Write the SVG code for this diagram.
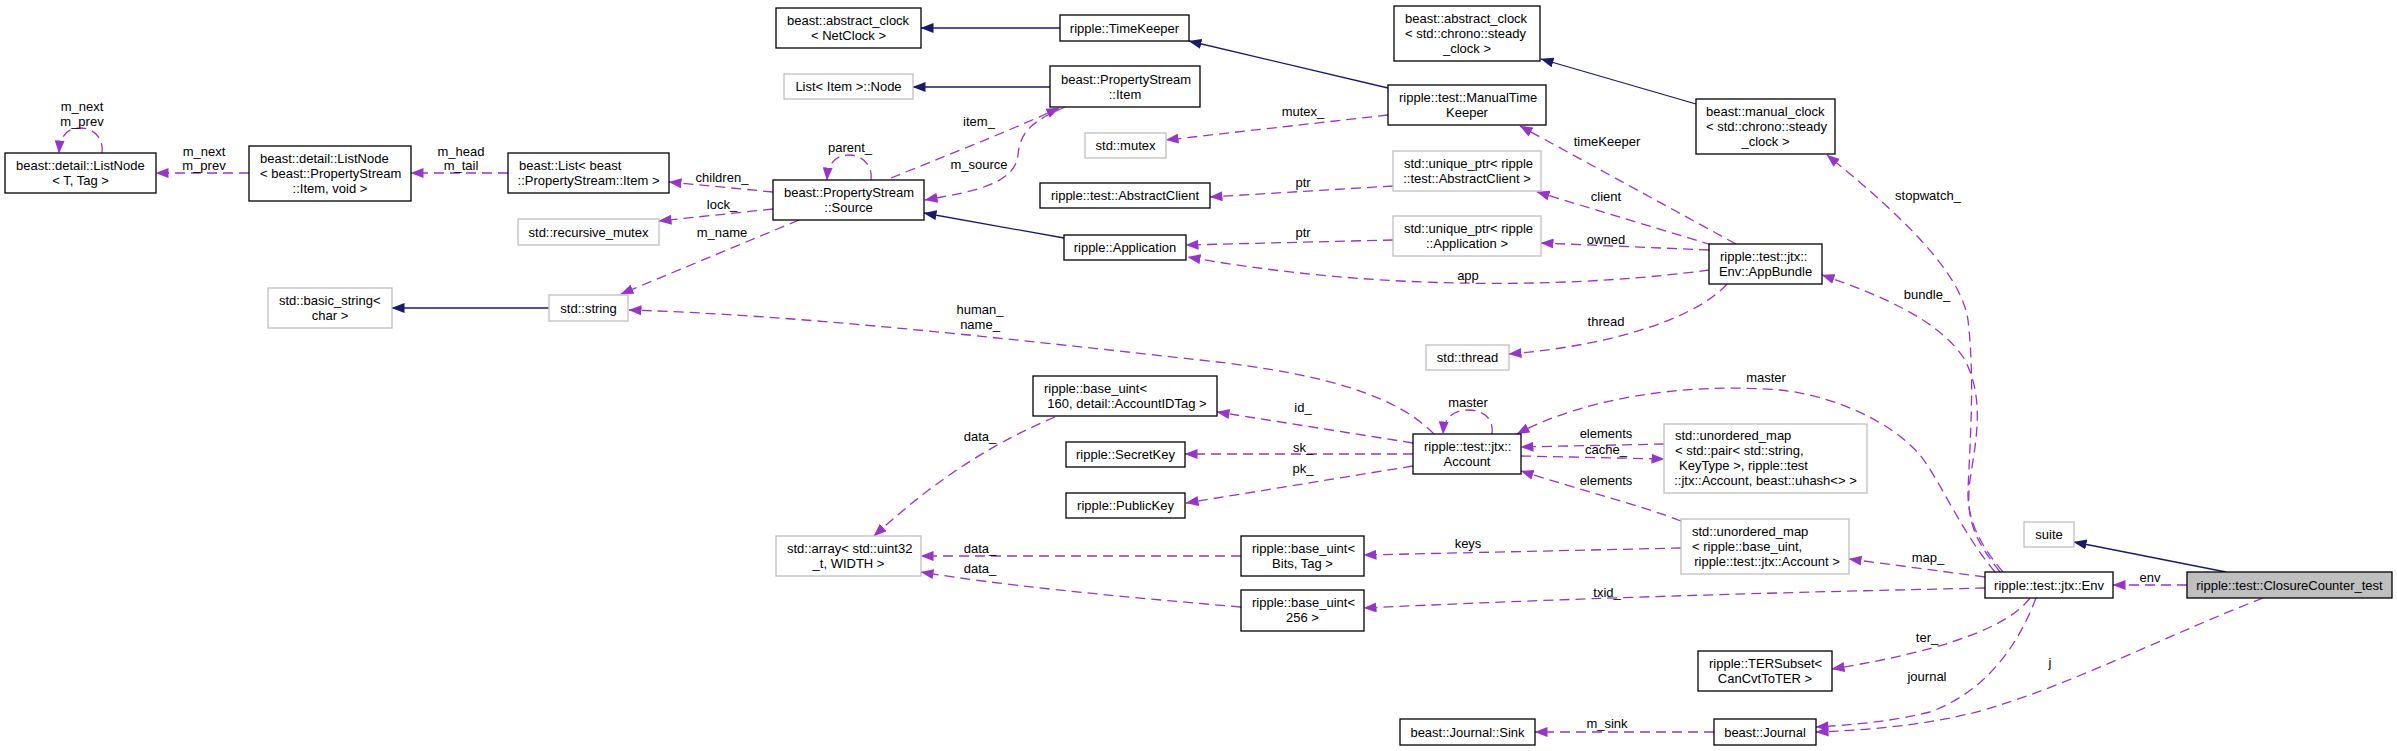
<svg xmlns="http://www.w3.org/2000/svg" width="2397" height="751" viewBox="0 0 2397 751">
<style>
text{font-family:"Liberation Sans",Arial,Helvetica,sans-serif;font-size:13px;fill:#000}
.node rect{fill:#fff;stroke:#000;stroke-width:1.3}
.node.g rect{stroke:#bfbfbf}
.node.hl rect{fill:#bfbfbf}
.c{text-anchor:middle}
.e{fill:none;stroke:#9a32cd;stroke-width:1.3;stroke-dasharray:10,6;marker-end:url(#ap)}
.i{fill:none;stroke:#191970;stroke-width:1.3;marker-end:url(#ab)}
.lbl text{text-anchor:middle}
</style>
<defs>
<marker id="ap" markerUnits="userSpaceOnUse" markerWidth="14" markerHeight="10" refX="12.5" refY="5" orient="auto"><path d="M0,0 L13,5 L0,10 z" fill="#9a32cd"/></marker>
<marker id="ab" markerUnits="userSpaceOnUse" markerWidth="14" markerHeight="10" refX="12.5" refY="5" orient="auto"><path d="M0,0 L13,5 L0,10 z" fill="#191970"/></marker>
</defs>
<rect x="0" y="0" width="2397" height="751" fill="#fff"/>

<g id="connectors">
<path class="e" d="M102,153 C104,138 94,128 80,128 C68,128 60,135 59,153"/>
<path class="e" d="M249,173 L156,173"/>
<path class="e" d="M508,173 L411,173"/>
<path class="e" d="M773,192 L669,182"/>
<path class="e" d="M773,209 L659,221"/>
<path class="e" d="M799,220 L621,294"/>
<path class="e" d="M871,180 C873,165 862,155 849,155 C836,155 828,163 827,180"/>
<path class="e" d="M891,178 C940,158 1000,135 1059,108"/>
<path class="e" d="M1065,107 C1035,120 1020,130 1018,155 C1015,185 970,192 925,200"/>
<path class="i" d="M1064,238 L924,213"/>
<path class="i" d="M1050,87 L913,87"/>
<path class="i" d="M1060,28 L921,28"/>
<path class="i" d="M1388,88 L1189,41"/>
<path class="i" d="M1696,104 L1541,59"/>
<path class="e" d="M1388,115 L1166,140"/>
<path class="e" d="M1393,186 L1210,197"/>
<path class="e" d="M1393,240 L1186,245"/>
<path class="e" d="M1709,250 L1541,243"/>
<path class="e" d="M1712,245 L1537,192"/>
<path class="e" d="M1736,244 L1520,126"/>
<path class="e" d="M1709,270 C1600,285 1400,295 1188,257"/>
<path class="e" d="M1727,284 C1700,315 1620,345 1509,354"/>
<path class="e" d="M2003,572 C1980,545 1967,520 1968,490 C1970,440 1975,380 1968,320 C1962,280 1920,230 1827,155"/>
<path class="e" d="M2000,572 C1975,540 1965,520 1970,480 C1976,440 1985,400 1965,360 C1940,320 1880,295 1822,275"/>
<path class="e" d="M1995,572 C1960,530 1940,480 1920,455 C1890,420 1830,395 1780,390 C1680,382 1580,400 1517,434"/>
<path class="e" d="M1492,434 C1494,419 1484,410 1468,410 C1453,410 1444,418 1443,434"/>
<path class="e" d="M1434,434 C1400,400 1340,375 1200,360 C1000,338 800,315 629,310"/>
<path class="e" d="M1413,443 L1217,412"/>
<path class="e" d="M1413,454 L1185,454"/>
<path class="e" d="M1413,466 L1186,503"/>
<path class="e" d="M1664,444 L1521,447"/>
<path class="e" d="M1521,456 L1664,459"/>
<path class="e" d="M1681,521 C1640,505 1580,490 1521,471"/>
<path class="e" d="M1055,417 C1000,440 940,475 874,536"/>
<path class="e" d="M1241,556 L921,556"/>
<path class="e" d="M1241,607 C1100,595 1000,585 921,572"/>
<path class="e" d="M1681,548 L1364,555"/>
<path class="e" d="M1985,588 C1800,592 1600,597 1364,608"/>
<path class="e" d="M1985,577 L1849,559"/>
<path class="e" d="M2030,598 C2010,625 1950,650 1832,669"/>
<path class="e" d="M2036,598 C2020,640 1990,690 1930,712 C1890,722 1850,725 1816,727"/>
<path class="e" d="M2263,598 C2180,630 2080,680 2000,705 C1950,722 1880,730 1816,732"/>
<path class="e" d="M2187,585 L2113,585"/>
<path class="i" d="M2226,572 L2074,542"/>
<path class="i" d="M549,308 L392,308"/>
<path class="e" d="M1714,732 L1535,732"/>
<g class="lbl">
<text x="82" y="110.5">m_next</text><text x="82" y="125.5">m_prev</text>
<text x="204" y="155.5">m_next</text><text x="204" y="169.5">m_prev</text>
<text x="461" y="155.5">m_head</text><text x="461" y="169.5">m_tail</text>
<text x="850" y="151.5">parent_</text>
<text x="722" y="181.5">children_</text>
<text x="722" y="208.5">lock_</text>
<text x="722" y="236.5">m_name</text>
<text x="979" y="125.5">item_</text>
<text x="979" y="168.5">m_source</text>
<text x="1303" y="115.5">mutex_</text>
<text x="1303" y="186.5">ptr</text>
<text x="1303" y="236.5">ptr</text>
<text x="1607" y="145.5">timeKeeper</text>
<text x="1606" y="200.5">client</text>
<text x="1606" y="243.5">owned</text>
<text x="1468" y="279.5">app</text>
<text x="1606" y="325.5">thread</text>
<text x="1928" y="199.5">stopwatch_</text>
<text x="1927" y="298.5">bundle_</text>
<text x="980" y="313.5">human_</text><text x="980" y="328.5">name_</text>
<text x="1468" y="406.5">master</text>
<text x="1766" y="381.5">master</text>
<text x="1303" y="411.5">id_</text>
<text x="1303" y="451.5">sk_</text>
<text x="1303" y="472.5">pk_</text>
<text x="1606" y="437.5">elements</text>
<text x="1606" y="453.5">cache_</text>
<text x="1606" y="484.5">elements</text>
<text x="980" y="440.5">data_</text>
<text x="980" y="552.5">data_</text>
<text x="980" y="572.5">data_</text>
<text x="1468" y="547.5">keys</text>
<text x="1607" y="596.5">txid_</text>
<text x="1928" y="561.5">map_</text>
<text x="2150" y="581.5">env</text>
<text x="1927" y="641.5">ter_</text>
<text x="1927" y="680.5">journal</text>
<text x="2050" y="666.5">j</text>
<text x="1607" y="727.5">m_sink</text>
</g>
</g>

<g id="n_listnodeT" class="node"><rect x="5" y="153" width="151" height="40"/><text x="16" y="170">beast::detail::ListNode</text><text class="c" x="80.5" y="185">&lt; T, Tag &gt;</text></g>
<g id="n_listnodeItem" class="node"><rect x="249" y="146" width="162" height="55"/><text x="260" y="163">beast::detail::ListNode</text><text x="260" y="178">&lt; beast::PropertyStream</text><text class="c" x="330" y="193">::Item, void &gt;</text></g>
<g id="n_list" class="node"><rect x="508" y="153" width="161" height="40"/><text x="519" y="170">beast::List&lt; beast</text><text class="c" x="588.5" y="185">::PropertyStream::Item &gt;</text></g>
<g id="n_recmutex" class="node g"><rect x="518" y="219" width="141" height="26"/><text class="c" x="588.5" y="236.5">std::recursive_mutex</text></g>
<g id="n_absclockNet" class="node"><rect x="776" y="8" width="145" height="40"/><text x="787" y="25">beast::abstract_clock</text><text class="c" x="848.5" y="40">&lt; NetClock &gt;</text></g>
<g id="n_timekeeper" class="node"><rect x="1060" y="15" width="129" height="26"/><text class="c" x="1124.5" y="32.5">ripple::TimeKeeper</text></g>
<g id="n_listitemnode" class="node g"><rect x="784" y="74" width="129" height="25"/><text class="c" x="848.5" y="91">List&lt; Item &gt;::Node</text></g>
<g id="n_psitem" class="node"><rect x="1050" y="66" width="150" height="41"/><text x="1061" y="83.5">beast::PropertyStream</text><text class="c" x="1125" y="98.5">::Item</text></g>
<g id="n_mutex" class="node g"><rect x="1085" y="133" width="81" height="25"/><text class="c" x="1125.5" y="150">std::mutex</text></g>
<g id="n_absclient" class="node"><rect x="1040" y="183" width="170" height="25"/><text class="c" x="1125" y="200">ripple::test::AbstractClient</text></g>
<g id="n_source" class="node"><rect x="773" y="180" width="151" height="40"/><text x="784" y="197">beast::PropertyStream</text><text class="c" x="848.5" y="212">::Source</text></g>
<g id="n_app" class="node"><rect x="1064" y="235" width="122" height="25"/><text class="c" x="1125" y="252">ripple::Application</text></g>
<g id="n_absclockSteady" class="node"><rect x="1394" y="6" width="146" height="55"/><text x="1405" y="22.5">beast::abstract_clock</text><text x="1405" y="37.5">&lt; std::chrono::steady</text><text class="c" x="1467" y="52.5">_clock &gt;</text></g>
<g id="n_manualtk" class="node"><rect x="1388" y="85" width="158" height="40"/><text x="1399" y="102">ripple::test::ManualTime</text><text class="c" x="1467" y="117">Keeper</text></g>
<g id="n_manualclock" class="node"><rect x="1696" y="99" width="139" height="55"/><text x="1706" y="116">beast::manual_clock</text><text x="1706" y="131">&lt; std::chrono::steady</text><text class="c" x="1765.5" y="146">_clock &gt;</text></g>
<g id="n_uptrAC" class="node g"><rect x="1393" y="151" width="148" height="40"/><text x="1404" y="168">std::unique_ptr&lt; ripple</text><text class="c" x="1467" y="183">::test::AbstractClient &gt;</text></g>
<g id="n_uptrApp" class="node g"><rect x="1393" y="216" width="148" height="40"/><text x="1404" y="233">std::unique_ptr&lt; ripple</text><text class="c" x="1467" y="248">::Application &gt;</text></g>
<g id="n_appbundle" class="node"><rect x="1709" y="244" width="113" height="40"/><text x="1720" y="261">ripple::test::jtx::</text><text class="c" x="1765.5" y="276">Env::AppBundle</text></g>
<g id="n_basicstring" class="node g"><rect x="268" y="288" width="124" height="40"/><text x="279" y="305">std::basic_string&lt;</text><text class="c" x="330" y="320">char &gt;</text></g>
<g id="n_string" class="node g"><rect x="549" y="295" width="79" height="26"/><text class="c" x="588.5" y="312.5">std::string</text></g>
<g id="n_bu160" class="node"><rect x="1033" y="376" width="184" height="40"/><text x="1044" y="393">ripple::base_uint&lt;</text><text class="c" x="1127" y="408">160, detail::AccountIDTag &gt;</text></g>
<g id="n_secretkey" class="node"><rect x="1066" y="442" width="119" height="25"/><text class="c" x="1125.5" y="459">ripple::SecretKey</text></g>
<g id="n_publickey" class="node"><rect x="1066" y="493" width="119" height="25"/><text class="c" x="1125.5" y="510">ripple::PublicKey</text></g>
<g id="n_thread" class="node g"><rect x="1426" y="345" width="83" height="25"/><text class="c" x="1467.5" y="362">std::thread</text></g>
<g id="n_account" class="node"><rect x="1413" y="434" width="108" height="40"/><text x="1424" y="451">ripple::test::jtx::</text><text class="c" x="1467" y="466">Account</text></g>
<g id="n_cachemap" class="node g"><rect x="1664" y="424" width="203" height="69"/><text x="1675" y="440">std::unordered_map</text><text x="1675" y="455">&lt; std::pair&lt; std::string,</text><text x="1679" y="470">KeyType &gt;, ripple::test</text><text class="c" x="1765.5" y="485">::jtx::Account, beast::uhash&lt;&gt; &gt;</text></g>
<g id="n_array" class="node g"><rect x="776" y="536" width="145" height="40"/><text x="787" y="553">std::array&lt; std::uint32</text><text class="c" x="848.5" y="568">_t, WIDTH &gt;</text></g>
<g id="n_buBits" class="node"><rect x="1241" y="536" width="123" height="40"/><text x="1252" y="553">ripple::base_uint&lt;</text><text class="c" x="1302.5" y="568">Bits, Tag &gt;</text></g>
<g id="n_bu256" class="node"><rect x="1241" y="590" width="123" height="41"/><text x="1252" y="607">ripple::base_uint&lt;</text><text class="c" x="1302.5" y="622">256 &gt;</text></g>
<g id="n_umap2" class="node g"><rect x="1681" y="519" width="168" height="55"/><text x="1692" y="536">std::unordered_map</text><text x="1692" y="551">&lt; ripple::base_uint,</text><text class="c" x="1767" y="566">ripple::test::jtx::Account &gt;</text></g>
<g id="n_tersubset" class="node"><rect x="1698" y="651" width="134" height="40"/><text x="1709" y="668">ripple::TERSubset&lt;</text><text class="c" x="1765" y="683">CanCvtToTER &gt;</text></g>
<g id="n_sink" class="node"><rect x="1400" y="719" width="135" height="26"/><text class="c" x="1467.5" y="736.5">beast::Journal::Sink</text></g>
<g id="n_journal" class="node"><rect x="1714" y="719" width="102" height="26"/><text class="c" x="1765" y="736.5">beast::Journal</text></g>
<g id="n_suite" class="node g"><rect x="2024" y="522" width="50" height="25"/><text class="c" x="2049" y="539">suite</text></g>
<g id="n_env" class="node"><rect x="1985" y="572" width="128" height="26"/><text class="c" x="2049" y="589.5">ripple::test::jtx::Env</text></g>
<g id="n_closure" class="node hl"><rect x="2187" y="572" width="205" height="26"/><text class="c" x="2289.5" y="589.5">ripple::test::ClosureCounter_test</text></g>
</svg>
